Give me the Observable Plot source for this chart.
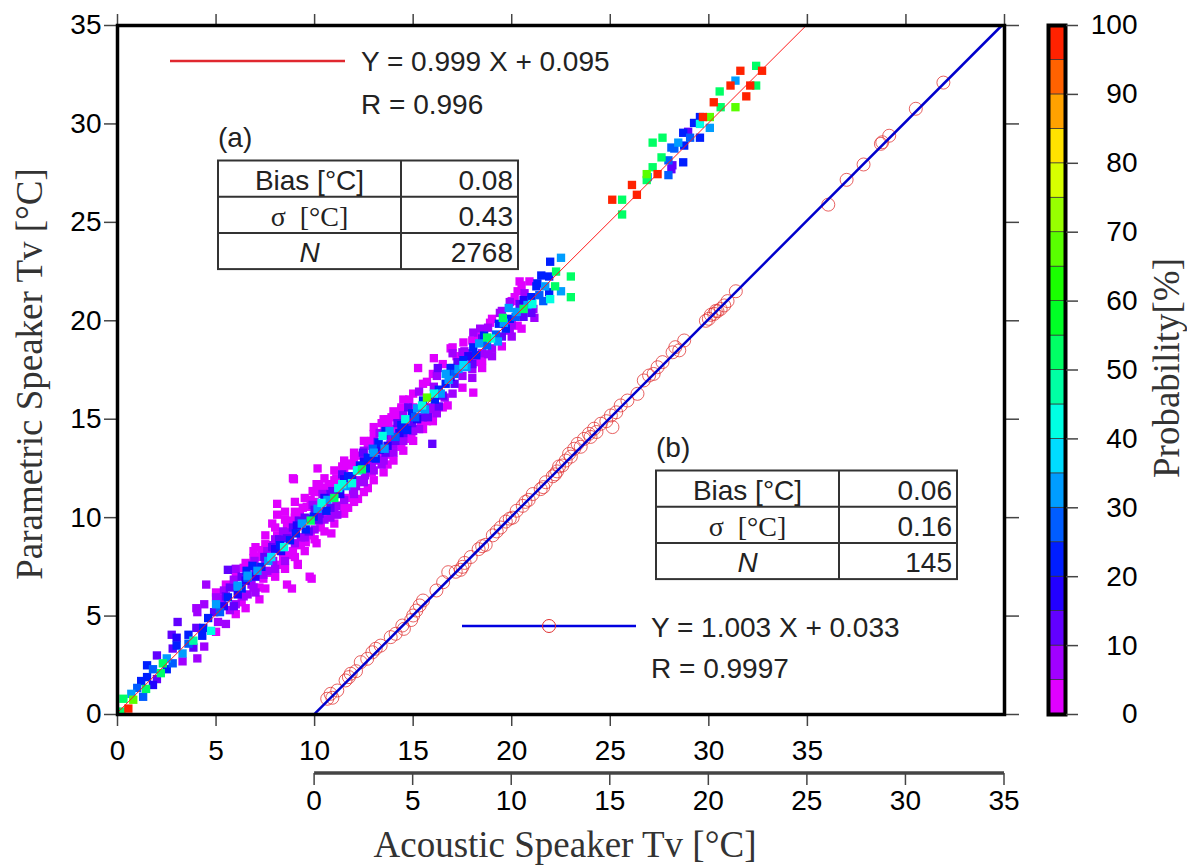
<!DOCTYPE html>
<html>
<head>
<meta charset="utf-8">
<script src="https://cdn.jsdelivr.net/npm/d3@7"></script>
<script src="https://cdn.jsdelivr.net/npm/@observablehq/plot@0.6"></script>
<style>
  html, body { margin: 0; padding: 0; background: #fff; }
  #chart { position: relative; width: 1187px; height: 866px; overflow: hidden; }
  #chart svg { position: absolute; top: 0; overflow: visible; }
</style>
</head>
<body>
<div id="chart"></div>
<script>
// ---------- DATA ----------
// Probability colour classes (%)
const probEdges = [0,5,10,15,20,25,30,35,40,45,50,55,60,65,70,75,80,85,90,95,100];
const probThresholds = [5,10,15,20,25,30,35,40,45,50,55,60,65,70,75,80,85,90,95];
const probColors = ["#e000ff","#a100ff","#6200ff","#2200ff","#001eff","#005dff","#009dff","#00ddff",
  "#00ffe3","#00ffa4","#00ff65","#00ff26","#1aff00","#59ff00","#98ff00","#d7ff00",
  "#ffe200","#ffa200","#ff6200","#ff2200"];
const probTicks = [0,10,20,30,40,50,60,70,80,90,100];

// (a) parametric vs acoustic speaker Tv: [acoustic, parametric, probability %]
const cellsLow = [
  [0.2,0.15,52],[0.55,0.3,97],[0.3,0.8,52],[0.8,0.75,67],[0.7,1.05,32],[1.0,1.35,27],[1.45,1.3,52],
  [1.3,0.9,27],[1.5,1.9,22],[1.8,1.5,17],[2.0,1.8,12],[2.2,2.1,52],[1.8,2.3,27],[1.5,2.5,22],
  [2.3,2.6,52],[2.5,2.85,32],[2.8,2.6,27],[2.0,3.0,12],[2.8,3.35,12],[3.0,3.5,22],[3.3,2.7,7],
  [3.3,3.1,32],[3.85,3.75,47],[3.6,4.05,22],[3.85,3.4,12],[4.05,2.85,7],[4.4,3.45,7],[4.3,4.0,22],
  [4.35,4.4,22],[2.75,4.05,12],[3.05,4.7,12],[4.6,4.9,22],[4.75,4.25,42],[4.05,5.2,7],[4.4,5.6,7],
  [5.1,4.7,7],[5.0,5.6,32],[5.2,5.2,27],[5.3,5.9,7],[5.7,5.3,7],[5.6,5.95,22],[6.1,6.5,32],
  [6.3,6.4,22],[5.7,6.45,12],[4.5,6.6,7],[6.3,5.7,3],[6.6,6.1,7],[7.2,5.85,3],[7.2,6.45,3],
  [6.6,6.95,27],[5.6,7.35,12],[6.0,7.4,7],[6.85,7.6,7],[4.0,5.4,7],[3.0,3.9,17],[2.5,2.3,22],
  [1.2,1.7,22],[3.6,3.6,27],[4.0,4.4,12],[5.4,5.5,17],[4.9,5.2,12],[6.1,6.1,17],[6.3,7.0,12],
  [6.8,6.6,7],[7.0,7.0,17],[7.4,7.1,7],
  [5.0,5.95,7],[5.4,6.3,7],[5.9,6.85,7],[6.4,7.45,3],[6.9,7.95,3],[5.9,5.5,12],[6.4,6.0,7],
  [6.9,6.45,7],[7.4,6.9,3],[7.8,7.2,3],[7.9,8.6,7],[7.3,8.35,3]
];
const cellsMid = [
  [6.1,6.55,32],[6.55,7.3,22],[6.85,7.55,22],[6.6,7.05,32],[6.95,7.8,7],[7.1,7.3,32],[7.45,8.0,12],
  [7.3,7.5,22],[7.8,8.0,37],[7.65,7.8,32],[8.1,7.6,3],[8.6,8.1,3],[7.85,8.5,12],[8.25,8.6,22],
  [8.45,8.5,42],[8.75,8.85,22],[9.05,9.2,22],[8.1,9.1,3],[9.55,8.75,3],[9.15,7.6,3],[9.75,7.0,3],
  [8.6,6.6,3],[8.85,6.4,3],[10.1,8.7,3],[10.85,9.2,3],[9.55,9.4,22],[9.8,9.85,52],[9.95,10.05,22],
  [10.25,10.2,12],[9.25,10.25,3],[8.85,9.85,3],[8.1,10.15,3],[8.1,10.7,3],[7.85,9.7,3],[8.9,12.0,3],
  [10.35,10.75,42],[10.65,10.9,32],[10.6,10.35,22],[10.4,11.2,7],[10.8,11.2,12],[11.0,11.0,52],
  [11.1,10.6,7],[11.15,10.15,7],[11.2,11.5,42],[9.9,11.35,3],[10.25,11.7,3],[11.7,10.5,3],
  [12.2,10.95,3],[11.95,11.4,7],[11.9,11.75,42],[11.7,12.1,22],[11.4,12.2,12],[11.4,12.6,3],
  [12.2,12.4,42],[11.7,12.75,3],[10.15,12.5,3],[12.3,13.15,3],[8.4,9.3,7],[8.9,9.5,12],[9.3,9.0,7],
  [9.6,9.95,12],[9.1,9.6,17],[8.6,8.95,12],[7.6,8.3,7],[7.2,8.0,3],[7.9,7.8,7],[8.3,8.3,17],
  [9.35,9.7,32],[10.2,9.85,7],[10.4,10.0,3],[9.6,10.55,3],[9.9,10.65,7],[10.3,9.5,3],[7.6,7.3,7],
  [6.9,8.3,3],[7.5,8.65,3],[8.0,8.9,7],[8.95,11.95,3],[10.1,11.7,3],[10.85,11.7,3],[11.4,11.7,42],
  [11.9,11.65,3],[12.7,11.5,3],[9.85,6.9,3],[9.15,7.65,3],
  [8.4,7.9,3],[8.9,8.3,3],[9.3,8.6,3],[9.8,9.1,3],[10.3,9.6,3],[10.8,10.0,7],[11.3,10.6,3],
  [11.7,11.0,3],[12.1,11.6,7],[8.6,9.6,3],[9.0,10.0,3],[9.4,10.5,3],[9.8,10.9,3],[10.3,11.3,3],
  [10.7,11.7,3],[11.1,12.0,3],[11.5,12.5,3],[12.0,12.95,3],[8.2,8.9,12],[8.7,9.25,7],[9.2,9.85,12],
  [10.0,10.4,12],[10.5,11.0,17],[10.9,11.35,12],[11.5,11.95,17],[9.7,9.3,12],[10.2,9.9,12],
  [10.8,10.5,12],[11.3,11.2,17],[11.9,12.1,22],[10.15,10.45,32],[11.6,11.6,32]
];
const cellsHigh = [
  [12.15,12.4,42],[12.4,12.45,52],[12.3,12.65,22],[12.55,12.15,7],[12.75,12.3,3],[11.9,12.65,3],
  [12.45,13.3,12],[12.7,13.05,22],[12.95,13.5,27],[13.0,13.3,32],[13.2,12.9,7],[13.5,13.05,3],
  [13.7,12.7,3],[12.7,13.65,3],[13.0,14.25,3],[13.2,13.85,12],[13.25,13.8,22],[13.45,14.15,42],
  [13.6,14.4,22],[13.8,14.4,32],[13.85,14.05,7],[14.3,14.05,3],[14.75,14.1,3],[13.55,14.5,3],
  [13.75,14.75,3],[14.15,15.2,3],[14.2,14.8,12],[14.4,14.7,22],[14.6,15.0,42],[14.7,14.45,22],
  [14.95,14.8,12],[15.4,14.8,3],[14.95,15.3,22],[15.2,15.55,32],[14.75,15.6,12],[15.5,15.95,22],
  [15.7,16.1,67],[15.45,15.7,42],[15.75,15.1,12],[16.0,15.1,3],[16.3,15.65,12],[16.05,16.65,7],
  [16.05,16.3,42],[16.4,16.3,32],[16.3,16.5,22],[16.65,16.8,22],[16.75,17.3,22],[16.8,17.0,32],
  [15.25,17.6,3],[16.25,17.6,12],[16.05,18.1,3],[15.97,13.75,12],[16.75,15.7,3],[16.9,18.6,3],
  [13.4,14.8,3],[14.0,14.5,3],[14.4,15.5,3],[14.0,13.7,7],[14.5,14.3,12],[15.0,15.6,3],[14.9,14.2,3],
  [12.9,12.7,7],[13.9,15.1,3],[12.5,12.85,17],[13.7,13.65,17],
  [12.3,11.9,7],[12.9,12.3,3],[13.4,12.7,7],[13.8,13.2,3],[14.4,13.6,3],[14.9,14.0,3],[15.3,14.5,7],
  [15.7,14.9,3],[16.2,15.3,7],[12.9,13.9,3],[13.3,14.3,7],[13.7,15.0,3],[14.4,15.6,3],[14.8,16.0,3],
  [15.3,16.4,7],[15.7,16.9,3],[16.2,17.2,7],[12.6,12.5,22],[13.1,13.0,22],[13.55,13.5,32],
  [14.1,14.1,27],[14.55,14.55,22],[15.1,15.1,27],[15.6,15.5,32],[16.1,16.0,22],[13.6,13.3,12],
  [14.1,13.9,12],[14.7,14.9,12],[15.2,15.0,17],[15.9,15.6,7],[13.3,13.45,17],[14.3,14.3,17],
  [16.65,17.3,32],[16.9,17.6,22],[17.0,18.35,7],[17.0,18.65,3],[17.55,18.9,3],[17.25,17.9,12],
  [17.3,17.55,32],[17.55,17.75,37],[17.55,18.0,22],[18.0,17.55,7],[18.2,17.9,3],[18.05,16.35,3],
  [18.0,18.35,12],[18.05,18.65,22],[18.5,18.35,7],[18.8,18.3,7],[18.35,18.85,32],[18.05,19.4,7],
  [18.4,19.6,7],[18.6,19.25,22],[18.75,19.15,52],[18.95,19.1,42],[19.3,18.95,32],[18.8,19.65,7],
  [19.35,19.85,22],[19.55,20.15,52],[19.9,20.1,22],[19.85,20.65,32],[20.25,20.45,32],[20.3,19.75,3],
  [19.9,19.5,7],[20.15,21.2,3],[20.4,20.85,12],[20.6,20.6,52],[21.15,20.15,7],[21.05,20.85,42],
  [20.65,21.4,7],[21.0,21.2,22],[21.25,21.75,22],[20.4,22.0,3],[20.9,22.0,3],[21.7,21.75,32],
  [21.9,21.45,22],[21.6,21.0,27],[21.95,21.1,42],[22.5,21.5,32],[22.2,21.75,52],[21.9,22.25,22],
  [22.25,22.5,52],[21.95,23.0,22],[22.5,23.2,32],[23.0,22.25,52],[23.0,21.2,52],[16.9,17.15,17],
  [17.8,18.2,17],[20.6,21.05,17],[19.6,19.9,32],[20.45,20.3,7],
  [16.6,16.1,7],[17.1,16.8,12],[17.5,17.2,7],[18.0,17.8,12],[18.5,18.0,3],[19.0,18.6,7],[19.5,19.2,12],
  [20.0,19.8,7],[20.6,20.2,12],[21.1,20.6,7],[17.2,18.2,3],[17.6,18.45,7],[18.3,19.2,3],[18.9,19.9,3],
  [19.4,20.4,7],[19.9,20.95,7],[20.3,21.5,3],[17.1,17.3,27],[17.7,17.65,32],[18.2,18.25,22],
  [18.75,18.75,27],[19.2,19.3,27],[19.7,19.6,22],[20.2,20.2,27],[20.8,20.8,32],[21.4,21.3,27],
  [21.3,21.9,22],[21.5,22.3,22]
];
// band edges (sparse cells either side of the core)
const cellsEdge = [
  [5.0,4.2,3],[5.0,6.2,3],[5.5,4.6,7],[5.5,6.6,3],[5.5,6.0,12],[6.0,5.1,3],[6.0,5.6,7],[6.0,7.0,3],
  [6.5,5.4,3],[6.5,7.7,3],[6.5,6.8,17],[7.0,6.2,7],[7.0,7.4,12],[7.0,8.5,3],[7.5,6.4,3],[7.5,7.9,7],
  [7.5,9.1,3],[8.0,7.0,3],[8.0,7.4,7],[8.0,8.4,17],[8.0,9.5,3],[8.5,7.4,3],[8.5,7.8,7],[8.5,9.9,3],
  [8.5,10.3,3],[9.0,8.0,3],[9.0,8.7,7],[9.0,10.3,3],[9.0,10.8,3],[9.5,8.3,3],[9.5,9.0,7],[9.5,10.0,12],
  [9.5,11.0,3],[10.0,8.9,3],[10.0,9.4,7],[10.0,10.8,3],[10.0,11.3,3],[10.5,9.3,3],[10.5,9.9,7],
  [10.5,11.5,3],[10.5,12.0,3],[11.0,9.7,3],[11.0,10.3,7],[11.0,11.9,3],[11.0,12.4,3],[11.5,10.2,3],
  [11.5,10.9,7],[11.5,12.9,3],[12.0,10.8,3],[12.0,11.2,7],[12.0,13.3,3],[12.5,11.3,3],[12.5,11.8,7],
  [12.5,13.9,3],[12.5,13.4,7],[13.0,11.9,3],[13.0,12.4,7],[13.0,14.6,3],[13.5,12.3,3],[13.5,12.9,7],
  [13.5,15.0,3],[13.5,14.2,12],[14.0,12.9,3],[14.0,13.3,7],[14.0,15.4,3],[14.5,13.4,3],[14.5,13.9,7],
  [14.5,16.0,3],[14.5,15.2,7],[15.0,13.9,3],[15.0,14.4,7],[15.0,16.3,3],[15.5,14.5,3],[15.5,15.1,12],
  [15.5,16.8,3],[16.0,14.9,3],[16.0,15.5,7],[16.0,17.3,3],[16.5,15.6,3],[16.5,16.2,12],[16.5,17.8,3],
  [17.0,16.3,7],[17.0,17.6,12],[17.5,16.6,3],[17.5,18.4,7],[18.0,17.1,7],[18.0,19.0,3],[18.5,17.6,3],
  [18.5,19.1,12],[19.0,18.2,7],[19.0,20.1,3],[19.5,18.7,3],[19.5,20.5,7],[20.0,19.2,7],[20.0,21.0,3],
  [20.5,19.6,3],[20.5,21.8,3],[21.0,20.4,12]
];
const cellsTop = [
  [25.1,26.15,97],[25.6,26.15,52],[25.6,25.4,52],[26.1,26.9,97],[26.35,26.4,97],[26.85,27.15,52],
  [26.85,27.45,67],[26.9,27.3,32],[27.4,27.45,97],[27.95,27.4,27],[27.15,27.8,52],[27.6,28.3,52],
  [27.95,28.15,27],[28.1,27.7,12],[28.25,28.75,27],[28.7,28.05,22],[28.45,29.05,32],[27.15,29.05,52],
  [27.65,29.3,52],[28.7,29.55,22],[28.75,28.9,22],[28.95,29.6,12],[29.05,29.3,27],[29.25,30.05,22],
  [29.55,30.0,42],[29.55,29.3,22],[29.55,30.35,22],[29.7,30.35,97],[30.05,30.35,67],[30.05,29.8,32],
  [30.6,30.85,52],[30.25,31.1,97],[30.55,31.65,52],[31.1,31.95,97],[31.35,32.2,32],[31.6,32.7,97],
  [31.35,30.85,67],[31.9,31.4,97],[32.1,31.95,97],[32.4,31.95,52],[32.4,32.95,52],[32.7,32.7,97],
  [28.1,28.8,27],[28.15,27.9,12]
];

// (b) points: [acoustic, parametric], drawn on the shifted lower axis
const pointsB = [
  [0.64,0.8],[0.81,1.05],[0.9,0.85],[1.15,1.22],[1.57,1.73],[1.74,1.9],[1.83,2.07],[2.1,2.2],
  [2.34,2.66],[2.67,2.83],[2.93,3.16],[3.1,3.34],[3.35,3.5],[3.86,3.93],[4.11,4.1],[4.45,4.52],
  [4.53,4.35],[4.9,4.8],[5.0,5.03],[5.16,5.28],[5.33,5.54],[5.5,5.79],[6.18,6.3],[6.52,6.72],
  [6.78,7.23],[7.16,7.25],[7.41,7.35],[7.5,7.5],[7.61,7.7],[7.92,8.0],[8.32,8.4],[8.5,8.55],
  [8.68,8.62],[9.04,9.1],[9.24,9.3],[9.44,9.5],[9.7,9.8],[9.9,9.95],[10.05,10.0],[10.25,10.35],
  [10.56,10.6],[10.7,10.8],[10.86,10.9],[11.07,11.2],[11.47,11.45],[11.6,11.55],[11.73,11.8],
  [12.08,12.1],[12.2,12.2],[12.3,12.35],[12.4,12.6],[12.57,12.65],[12.74,12.9],[12.91,13.24],
  [13.0,13.1],[13.17,13.5],[13.34,13.75],[13.5,13.6],[13.67,14.0],[13.92,14.26],[14.0,14.1],
  [14.18,14.52],[14.3,14.35],[14.52,14.77],[14.8,14.9],[15.11,14.6],[15.03,15.19],[15.3,15.35],
  [15.53,15.7],[15.87,15.95],[16.38,16.29],[16.7,16.97],[16.97,17.22],[17.2,17.3],[17.4,17.64],
  [17.65,17.9],[18.16,18.4],[18.3,18.66],[18.5,18.5],[18.75,19.0],[19.85,20.0],[20.0,20.1],
  [20.1,20.3],[20.27,20.35],[20.35,20.5],[20.44,20.49],[20.6,20.6],[20.78,20.78],[20.95,21.0],
  [21.37,21.5],[26.06,25.9],[26.99,27.16],[27.85,27.94],[28.73,28.99],[28.8,29.07],[29.15,29.4],
  [30.5,30.77],[31.9,32.1]
];
const shiftB = 10;  // lower axis origin sits at 10 on the upper axis

// regression fits: [slope, intercept, R]
const fitA = [0.999, 0.095, 0.996];
const fitB = [1.003, 0.033, 0.9997];

// tables
const tableRowLabels = ["Bias [°C]", "σ  [°C]", "N"];
const tableAValues = ["0.08", "0.43", "2768"];
const tableBValues = ["0.06", "0.16", "145"];

// axis ticks
const yTicks = [0,5,10,15,20,25,30,35];
const xTopTicks = [0,5,10,15,20,25,30,35,40,45];
const xBottomTicks = [0,5,10,15,20,25,30,35];
const xLowerTicks = [0,5,10,15,20,25,30,35];

// ---------- DRAW ----------
const SANS = "'Liberation Sans', Arial, Helvetica, sans-serif";
const SERIF = "'Liberation Serif', 'Times New Roman', serif";
const colorOpts = {type: "threshold", domain: probThresholds, range: probColors};

const cellsA = [...cellsEdge, ...cellsLow, ...cellsMid, ...cellsHigh, ...cellsTop]
  .map(([x, y, p]) => ({x, y, p}))
  .sort((a, b) => a.p - b.p);

const yMax = 35;
const fitLineA = [{x1: 0, y1: fitA[1], x2: (yMax - fitA[1]) / fitA[0], y2: yMax}];
const fitLineB = [{x1: shiftB, y1: fitB[1], x2: shiftB + (yMax - fitB[1]) / fitB[0], y2: yMax}];

const main = Plot.plot({
  width: 1187, height: 866,
  marginLeft: 117, marginRight: 183, marginTop: 25, marginBottom: 152,
  x: {domain: [0, 45]},
  y: {domain: [0, 35]},
  color: colorOpts,
  style: {fontFamily: SANS, fontSize: "28px", color: "#000", background: "transparent"},
  marks: [
    Plot.dot(cellsA, {x: "x", y: "y", fill: "p", symbol: "square", r: 4.7}),
    Plot.link(fitLineA, {x1: "x1", y1: "y1", x2: "x2", y2: "y2", stroke: "#ff1a1a", strokeWidth: 1}),
    Plot.dot(pointsB, {x: d => d[0] + shiftB, y: d => d[1], r: 6.5, stroke: "#e03030", strokeWidth: 0.9, strokeOpacity: 0.85, fill: "none"}),
    Plot.link(fitLineB, {x1: "x1", y1: "y1", x2: "x2", y2: "y2", stroke: "#0000cc", strokeWidth: 2.5}),
    Plot.axisX({anchor: "bottom", ticks: xBottomTicks, tickSize: 12, tickPadding: 14, label: null, stroke: "#444", strokeWidth: 1.5, fontSize: 28}),
    Plot.axisX({anchor: "top", ticks: xTopTicks, tickSize: 12, tickFormat: () => "", label: null, stroke: "#444", strokeWidth: 1.5}),
    Plot.axisY({anchor: "left", ticks: yTicks, tickSize: 13, tickPadding: 3, label: null, stroke: "#444", strokeWidth: 1.5, fontSize: 28}),
    Plot.axisY({anchor: "right", ticks: yTicks, tickSize: 14, tickFormat: () => "", label: null, stroke: "#444", strokeWidth: 1.5}),
    Plot.frame({stroke: "#000", strokeWidth: 3.5})
  ]
});
main.style.left = "0px";
document.getElementById("chart").appendChild(main);

const xs = main.scale("x");
const svg = d3.select(main);

// lower (shifted) x axis
const lowerY = 773;
const gAx = svg.append("g");
gAx.append("line")
  .attr("x1", xs.apply(shiftB)).attr("x2", xs.apply(45))
  .attr("y1", lowerY).attr("y2", lowerY)
  .attr("stroke", "#444").attr("stroke-width", 3.5);
for (const t of xLowerTicks) {
  const px = xs.apply(t + shiftB);
  gAx.append("line").attr("x1", px).attr("x2", px).attr("y1", lowerY).attr("y2", lowerY + 12)
    .attr("stroke", "#444").attr("stroke-width", 1.5);
  gAx.append("text").attr("x", px).attr("y", lowerY + 37).attr("text-anchor", "middle")
    .attr("font-family", SANS).attr("font-size", 28).attr("fill", "#000").text(t);
}

// axis titles
svg.append("text").attr("transform", "translate(42,374) rotate(-90)").attr("text-anchor", "middle")
  .attr("font-family", SERIF).attr("font-size", 37).attr("fill", "#333").text("Parametric Speaker Tv [°C]");
svg.append("text").attr("x", 565).attr("y", 857).attr("text-anchor", "middle")
  .attr("font-family", SERIF).attr("font-size", 37).attr("fill", "#333").text("Acoustic Speaker Tv [°C]");

// legends
function legendText(x, y, str) {
  svg.append("text").attr("x", x).attr("y", y).attr("text-anchor", "start")
    .attr("font-family", SANS).attr("font-size", 28).attr("fill", "#222").text(str);
}
svg.append("line").attr("x1", 170).attr("x2", 345).attr("y1", 61).attr("y2", 61)
  .attr("stroke", "#e0282f").attr("stroke-width", 2.5);
legendText(361, 71, `Y = ${fitA[0].toFixed(3)} X + ${fitA[1].toFixed(3)}`);
legendText(361, 114, `R = ${fitA[2]}`);

svg.append("line").attr("x1", 462).attr("x2", 636).attr("y1", 626).attr("y2", 626)
  .attr("stroke", "#0000e0").attr("stroke-width", 2.5);
svg.append("circle").attr("cx", 549).attr("cy", 626).attr("r", 6.5).attr("fill", "none")
  .attr("stroke", "#e03030").attr("stroke-width", 1);
legendText(651, 637, `Y = ${fitB[0].toFixed(3)} X + ${fitB[1].toFixed(3)}`);
legendText(651, 678, `R = ${fitB[2]}`);

// tables
function drawTable(tag, values, x0, x1, xm, y0, h) {
  legendText(x0, y0 - 14, tag);
  const g = svg.append("g");
  g.append("rect").attr("x", x0).attr("y", y0).attr("width", x1 - x0).attr("height", 3 * h)
    .attr("fill", "#fff").attr("stroke", "#333").attr("stroke-width", 2);
  g.append("line").attr("x1", xm).attr("x2", xm).attr("y1", y0).attr("y2", y0 + 3 * h)
    .attr("stroke", "#333").attr("stroke-width", 2);
  for (let i = 1; i < 3; i++) {
    g.append("line").attr("x1", x0).attr("x2", x1).attr("y1", y0 + i * h).attr("y2", y0 + i * h)
      .attr("stroke", "#333").attr("stroke-width", 2);
  }
  tableRowLabels.forEach((lab, i) => {
    const base = y0 + (i + 1) * h - 7;
    const t = g.append("text").attr("x", (x0 + xm) / 2).attr("y", base).attr("text-anchor", "middle")
      .attr("font-size", 28).attr("fill", "#222").text(lab);
    if (i === 1) t.attr("font-family", SERIF);
    else t.attr("font-family", SANS);
    if (i === 2) t.attr("font-style", "italic");
    g.append("text").attr("x", x1 - 5).attr("y", base).attr("text-anchor", "end")
      .attr("font-family", SANS).attr("font-size", 28).attr("fill", "#222").text(values[i]);
  });
}
drawTable("(a)", tableAValues, 218, 518, 401, 160.5, 36.2);
drawTable("(b)", tableBValues, 656, 957, 839, 470.5, 36.2);

// ---------- COLOUR BAR ----------
const bins = probEdges.slice(0, -1).map((lo, i) => ({lo, hi: probEdges[i + 1], mid: (lo + probEdges[i + 1]) / 2}));
const bar = Plot.plot({
  width: 187, height: 866,
  marginLeft: 48, marginRight: 122, marginTop: 25, marginBottom: 152,
  x: {domain: [0, 1], axis: null},
  y: {domain: [0, 100]},
  color: colorOpts,
  style: {fontFamily: SANS, fontSize: "28px", color: "#000", background: "transparent"},
  marks: [
    Plot.rect(bins, {x1: 0, x2: 1, y1: "lo", y2: "hi", fill: "mid", stroke: "#333", strokeWidth: 0.7}),
    Plot.frame({stroke: "#000", strokeWidth: 4}),
    Plot.axisY({anchor: "right", ticks: probTicks, tickSize: 12, tickPadding: 60, textAnchor: "end", label: null, stroke: "#444", strokeWidth: 1.5, fontSize: 28})
  ]
});
bar.style.left = "1000px";
document.getElementById("chart").appendChild(bar);
d3.select(bar).append("text").attr("transform", "translate(179,368) rotate(-90)").attr("text-anchor", "middle")
  .attr("font-family", SERIF).attr("font-size", 37).attr("fill", "#333").text("Probability[%]");
</script>
</body>
</html>
